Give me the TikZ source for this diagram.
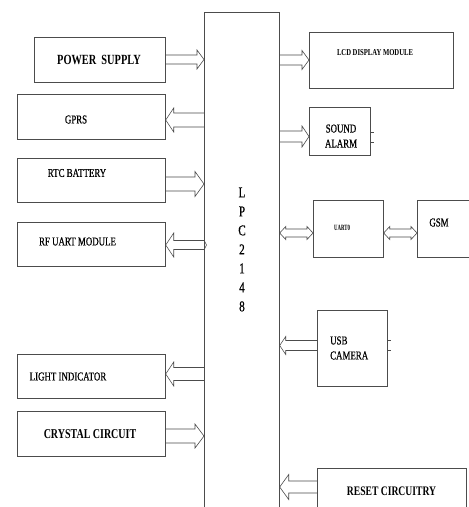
\documentclass[tikz,border=0pt]{standalone}
\usepackage{fontspec}
\setmainfont{Liberation Serif}
\newfontfamily\cnd[FakeStretch=0.74]{Liberation Serif}
\newfontfamily\cndr[FakeStretch=0.74,FakeBold=0.6]{Liberation Serif}
\newfontfamily\cndx[FakeStretch=0.6]{Liberation Serif}
\usetikzlibrary{calc}
\tikzset{
  blk/.style={draw=black!70, line width=0.6pt, line join=miter},
  box/.style={draw=black!70, line width=0.7pt, rectangle, inner sep=0pt, anchor=north west},
  txt/.style={inner sep=0pt, text=black},
}
% hollow block arrow: #1 tail anchor, #2 tip anchor, #3 y, #4 half shaft, #5 half head, #6 signed head length
\newcommand\harrow[6]{%
  \coordinate (T) at (#1 |- 0,#3);
  \coordinate (H) at (#2 |- 0,#3);
  \draw[blk] ($(T)+(0,#4)$) -- ($(H)+(#6,#4)$) -- ($(H)+(#6,#5)$) -- (H)
     -- ($(H)+(#6,-#5)$) -- ($(H)+(#6,-#4)$) -- ($(T)+(0,-#4)$);}
% hollow double arrow: #1 left anchor, #2 right anchor, #3 y, #4 half shaft, #5 half head, #6 head length
\newcommand\darrow[6]{%
  \coordinate (A) at (#1 |- 0,#3);
  \coordinate (B) at (#2 |- 0,#3);
  \draw[blk] (A) -- ($(A)+(#6,#5)$) -- ($(A)+(#6,#4)$) -- ($(B)+(-#6,#4)$)
     -- ($(B)+(-#6,#5)$) -- (B) -- ($(B)+(-#6,-#5)$) -- ($(B)+(-#6,-#4)$)
     -- ($(A)+(#6,-#4)$) -- ($(A)+(#6,-#5)$) -- cycle;}
\begin{document}
\begin{tikzpicture}[x=1pt,y=-1pt]
\clip (0,0) rectangle (469,507);
\fill[white] (0,0) rectangle (469,507);

% central controller
\node[box, minimum width=75, minimum height=520] (lpc) at (204,12) {};
\node[txt, align=center, font={\cndr\fontsize{15}{19}\selectfont}] (lpct) at (242,249.5) {L\\P\\C\\2\\1\\4\\8};

% left blocks
\node[box, minimum width=131, minimum height=45] (ps) at (34,37) {};
\node[box, minimum width=148, minimum height=45] (gprs) at (17,94) {};
\node[box, minimum width=148, minimum height=44] (rtc) at (17,158) {};
\node[box, minimum width=148, minimum height=44] (rf) at (17,222) {};
\node[box, minimum width=148, minimum height=44] (light) at (17,354) {};
\node[box, minimum width=148, minimum height=45] (crys) at (17,411) {};

% right blocks
\node[box, minimum width=144, minimum height=56] (lcd) at (309,32) {};
\node[box, minimum width=61, minimum height=48] (snd) at (309,107) {};
\node[box, minimum width=70, minimum height=57] (uart) at (313,200) {};
\node[box, minimum width=70, minimum height=57] (gsm) at (417,200) {};
\node[box, minimum width=70, minimum height=76] (usb) at (317,310) {};
\node[box, minimum width=149, minimum height=50] (reset) at (317,468) {};

% labels
\node[txt, font={\cnd\bfseries\fontsize{14}{16}\selectfont}] (pst) at (99,60) {POWER\ \ SUPPLY};
\node[txt, font={\cndr\fontsize{12}{14}\selectfont}] (gprst) at (76,119.5) {GPRS};
\node[txt, font={\cndr\fontsize{12}{14}\selectfont}] (rtct) at (77,173) {RTC BATTERY};
\node[txt, font={\cndr\fontsize{12}{14}\selectfont}] (rft) at (77.5,241.5) {RF UART MODULE};
\node[txt, font={\cndr\fontsize{12}{14}\selectfont}] (lightt) at (68,376.5) {LIGHT INDICATOR};
\node[txt, font={\cnd\bfseries\fontsize{13.5}{16}\selectfont}] (cryst) at (90,434.5) {CRYSTAL CIRCUIT};
\node[txt, font={\cnd\bfseries\fontsize{9}{11}\selectfont}] (lcdt) at (375,52.5) {LCD DISPLAY MODULE};
\node[txt, align=center, font={\cndr\fontsize{12}{15}\selectfont}] (sndt) at (341,136) {SOUND\\ALARM};
\node[txt, font={\cndx\bfseries\fontsize{8}{10}\selectfont}] (uartt) at (342,227.5) {UART0};
\node[txt, font={\cndr\fontsize{12}{14}\selectfont}] (gsmt) at (439,222.5) {GSM};
\node[txt, align=left, anchor=west, font={\cndr\fontsize{12}{15}\selectfont}] (usbt) at (330,348) {USB\\CAMERA};
\node[txt, font={\cnd\bfseries\fontsize{13}{15}\selectfont}] (resett) at (391.5,491.5) {RESET CIRCUITRY};

% left connectors
\harrow{ps.east}{lpc.west}{59.5}{4.5}{9.5}{-7}
\harrow{lpc.west}{gprs.east}{120}{7}{12}{8}
\harrow{rtc.east}{lpc.west}{184}{7}{12.5}{-9}
\harrow{lpc.west}{rf.east}{245}{4.5}{12}{8}
\draw[blk] (lpc.west |- 0,240) -- ($(lpc.west |- 0,245)+(2.5,0)$) -- (lpc.west |- 0,250);
\harrow{lpc.west}{light.east}{374}{6.5}{12}{8}
\harrow{crys.east}{lpc.west}{436}{7}{12}{-9}

% right connectors
\harrow{lpc.east}{lcd.west}{60}{5}{9.5}{-7}
\harrow{lpc.east}{snd.west}{136.5}{5.5}{10.5}{-7}
\darrow{lpc.east}{uart.west}{233}{4}{6.5}{6}
\darrow{uart.east}{gsm.west}{233}{4}{6.5}{6}
\harrow{usb.west}{lpc.east}{345.5}{5}{9}{6}
\harrow{reset.west}{lpc.east}{487}{6}{12.5}{9}

% small stubs on box edges
\draw[blk] (snd.east |- 0,132) -- ++(3,0);
\draw[blk] (snd.east |- 0,142) -- ++(3,0);
\draw[blk] (usb.east |- 0,340) -- ++(3,0);
\draw[blk] (usb.east |- 0,350) -- ++(3,0);
\end{tikzpicture}
\end{document}
